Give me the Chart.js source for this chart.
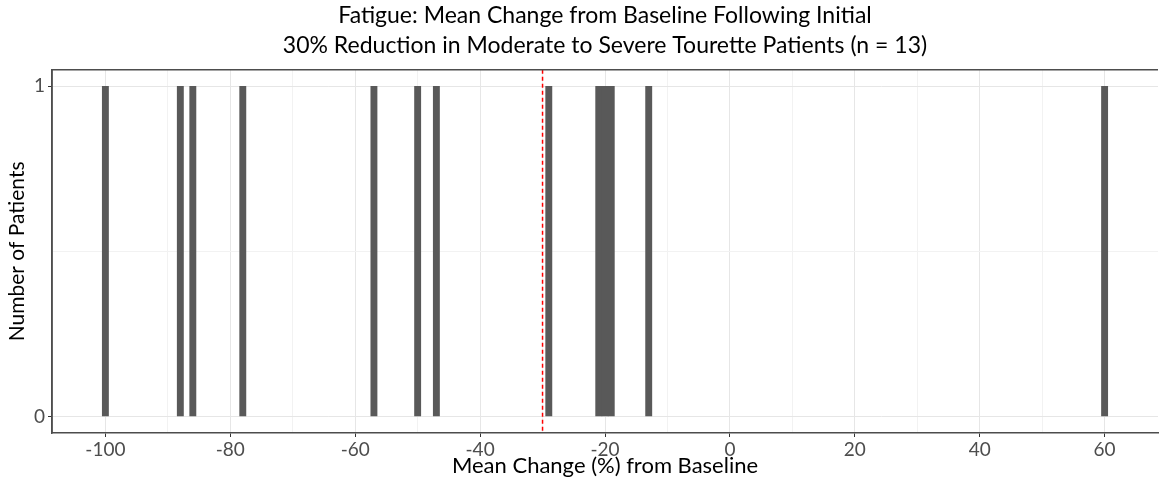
<!DOCTYPE html>
<html>
<head>
<meta charset="utf-8">
<script src="https://cdn.jsdelivr.net/npm/chart.js"></script>
<style>
  html, body { margin: 0; padding: 0; background: #fff; }
  #wrap { width: 1159px; height: 484px; }
</style>
</head>
<body>
<div id="wrap"><canvas id="chart" width="1159" height="484"></canvas></div>
<script>
// dati
const binCenters = [-100, -88, -86, -78, -57, -50, -47, -29, -21, -20, -19, -13, 60];
const patientCounts = [1, 1, 1, 1, 1, 1, 1, 1, 1, 1, 1, 1, 1];
const xTickValues = [-100, -90, -80, -70, -60, -50, -40, -30, -20, -10, 0, 10, 20, 30, 40, 50, 60];
const xLabelValues = [-100, -80, -60, -40, -20, 0, 20, 40, 60];
const yTickValues = [0, 0.5, 1];
const yLabelValues = [0, 1];
const thresholdLine = -30;

const titleLines = [
  'Fatigue: Mean Change from Baseline Following Initial',
  '30% Reduction in Moderate to Severe Tourette Patients (n = 13)'
];

const FONT = 'Lato, "Open Sans", sans-serif';

// linea tratteggiata rossa + bordo del pannello
const extras = {
  id: 'extras',
  beforeDatasetsDraw(chart) {
    const { ctx, chartArea, scales } = chart;
    const x = scales.x.getPixelForValue(thresholdLine);
    ctx.save();
    ctx.strokeStyle = '#ff0000';
    ctx.lineWidth = 1.5;
    ctx.setLineDash([4, 3]);
    ctx.beginPath();
    ctx.moveTo(x, chartArea.top);
    ctx.lineTo(x, chartArea.bottom);
    ctx.stroke();
    ctx.restore();
  },
  afterDraw(chart) {
    const { ctx, chartArea } = chart;
    ctx.save();
    ctx.strokeStyle = '#4d4d4d';
    ctx.lineWidth = 1.5;
    ctx.beginPath();
    ctx.moveTo(chartArea.left, chartArea.bottom);
    ctx.lineTo(chartArea.left, chartArea.top);
    ctx.lineTo(chartArea.right, chartArea.top);
    ctx.stroke();
    ctx.restore();
  }
};

new Chart(document.getElementById('chart'), {
  type: 'bar',
  data: {
    datasets: [{
      data: binCenters.map((c, i) => ({ x: c, y: patientCounts[i] })),
      backgroundColor: '#595959',
      borderWidth: 0,
      barPercentage: 1,
      categoryPercentage: 1
    }]
  },
  options: {
    responsive: false,
    animation: false,
    layout: { padding: { right: 1, top: 0, left: 0, bottom: 0 } },
    plugins: {
      legend: { display: false },
      tooltip: { enabled: false },
      title: {
        display: true,
        fullSize: false,
        text: titleLines,
        color: '#000',
        font: { family: FONT, size: 23, weight: 'normal', lineHeight: 1.3 },
        padding: { top: 1, bottom: 9 }
      }
    },
    scales: {
      x: {
        type: 'linear',
        min: -108.55,
        max: 68.55,
        offset: false,
        afterBuildTicks: s => { s.ticks = xTickValues.map(v => ({ value: v })); },
        afterFit: s => { s.height = 51; },
        grid: {
          offset: false,
          color: ctx => xLabelValues.includes(ctx.tick && ctx.tick.value) ? '#e6e6e6' : '#f2f2f2',
          tickColor: ctx => xLabelValues.includes(ctx.tick && ctx.tick.value) ? '#333' : 'rgba(0,0,0,0)',
          tickLength: 4,
          lineWidth: 1
        },
        border: { display: true, color: '#4d4d4d', width: 1.5 },
        ticks: {
          autoSkip: false,
          maxRotation: 0,
          padding: 1,
          color: '#4d4d4d',
          font: { family: FONT, size: 19 },
          callback: v => xLabelValues.includes(v) ? String(v) : ''
        },
        title: {
          display: true,
          text: 'Mean Change (%) from Baseline',
          color: '#000',
          font: { family: FONT, size: 22 },
          padding: { top: 0, bottom: 5 }
        }
      },
      y: {
        type: 'linear',
        min: -0.05,
        max: 1.05,
        afterBuildTicks: s => { s.ticks = yTickValues.map(v => ({ value: v })); },
        afterFit: s => { s.width = 52; },
        grid: {
          offset: false,
          color: ctx => yLabelValues.includes(ctx.tick && ctx.tick.value) ? '#e6e6e6' : '#f2f2f2',
          tickColor: ctx => yLabelValues.includes(ctx.tick && ctx.tick.value) ? '#333' : 'rgba(0,0,0,0)',
          tickLength: 4,
          lineWidth: 1
        },
        border: { display: true, color: '#4d4d4d', width: 1.5 },
        ticks: {
          padding: 3,
          color: '#4d4d4d',
          font: { family: FONT, size: 19 },
          callback: v => yLabelValues.includes(v) ? String(v) : ''
        },
        title: {
          display: true,
          text: 'Number of Patients',
          color: '#000',
          font: { family: FONT, size: 21 },
          padding: { top: 5, bottom: 0 }
        }
      }
    }
  },
  plugins: [extras]
});
</script>
</body>
</html>
